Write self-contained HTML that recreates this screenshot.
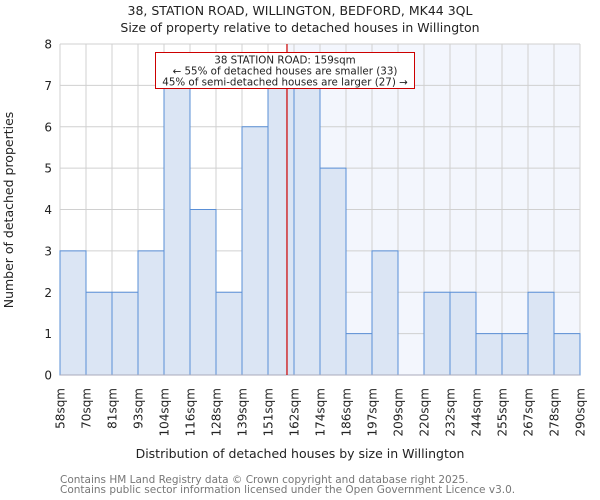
<!DOCTYPE html>
<html><head><meta charset="utf-8">
<style>
body{margin:0;background:#fff;}
svg{display:block;font-family:"DejaVu Sans","Liberation Sans",sans-serif;}
</style></head>
<body>
<svg id="chart" width="600" height="500">
<text x="300" y="15" text-anchor="middle" font-size="12.5" fill="#222">38, STATION ROAD, WILLINGTON, BEDFORD, MK44 3QL</text>
<text x="300" y="32" text-anchor="middle" font-size="12.5" fill="#222">Size of property relative to detached houses in Willington</text>
<g id="plot"></g>
<text x="300" y="458" text-anchor="middle" font-size="12.5" fill="#222">Distribution of detached houses by size in Willington</text>
<text transform="translate(13,210) rotate(-90)" text-anchor="middle" font-size="12.5" fill="#222">Number of detached properties</text>
<text x="60" y="483" font-size="10.5" fill="#777">Contains HM Land Registry data © Crown copyright and database right 2025.</text>
<text x="60" y="493" font-size="10.5" fill="#777">Contains public sector information licensed under the Open Government Licence v3.0.</text>
</svg>
<script>
const binLabels=["58sqm","70sqm","81sqm","93sqm","104sqm","116sqm","128sqm","139sqm","151sqm","162sqm","174sqm","186sqm","197sqm","209sqm","220sqm","232sqm","244sqm","255sqm","267sqm","278sqm","290sqm"];
const counts=[3,2,2,3,7,4,2,6,7,7,5,1,3,0,2,2,1,1,2,1];
const yTicks=[0,1,2,3,4,5,6,7,8];
const propertyBinPos=8.73;
const annLines=["38 STATION ROAD: 159sqm","← 55% of detached houses are smaller (33)","45% of semi-detached houses are larger (27) →"];

const NS="http://www.w3.org/2000/svg";
const L=60,R=580,T=44,B=375;
const n=counts.length;
const xs=i=>L+(R-L)*i/n;
const ys=v=>B-(B-T)*v/8;
const g=document.getElementById('plot');
function mk(tag,attrs,parent){const e=document.createElementNS(NS,tag);for(const k in attrs)e.setAttribute(k,attrs[k]);(parent||g).appendChild(e);return e;}

const px=xs(propertyBinPos);
let bg=mk('rect',{x:px,y:T,width:R-px,height:B-T,fill:'#f3f6fd'});


for(let i=0;i<=n;i++){
  const l=mk('line',{x1:xs(i),x2:xs(i),y1:T,y2:B,stroke:'#d0d0d0','stroke-width':1});
  
  
}
yTicks.forEach(t=>{
  const l=mk('line',{x1:L,x2:R,y1:ys(t),y2:ys(t),stroke:'#d0d0d0','stroke-width':1});
  
  
  const tx=mk('text',{x:L-8,y:ys(t)+4.5,'text-anchor':'end','font-size':12,fill:'#222'});
  tx.textContent=t;
  
  
});
counts.forEach((c,i)=>{
  if(c<=0)return;
  const r=mk('rect',{x:xs(i),y:ys(c),width:xs(i+1)-xs(i),height:B-ys(c),fill:'#dbe5f4',stroke:'#5a8fd6','stroke-width':1});
  
  
});
mk('line',{x1:L,x2:R,y1:B,y2:B,stroke:'#aab',"stroke-width":1});
binLabels.forEach((lb,i)=>{
  const x=xs(i);
  const tx=mk('text',{transform:`translate(${x+4.5},388) rotate(-90)`,'text-anchor':'end','font-size':12,fill:'#222'});
  tx.textContent=lb;
  
  
});
const pl=mk('line',{x1:px,x2:px,y1:T,y2:B,stroke:'#cc0000','stroke-width':1.2});


const box=mk('rect',{x:155.5,y:52.5,width:259,height:36,fill:'#fff',stroke:'#cc0000','stroke-width':1});


annLines.forEach((s,k)=>{
  const tx=mk('text',{x:285,y:63.5+k*11,'text-anchor':'middle','font-size':10.3,fill:'#222'});
  tx.textContent=s;
  
  
});
</script>
</body></html>
